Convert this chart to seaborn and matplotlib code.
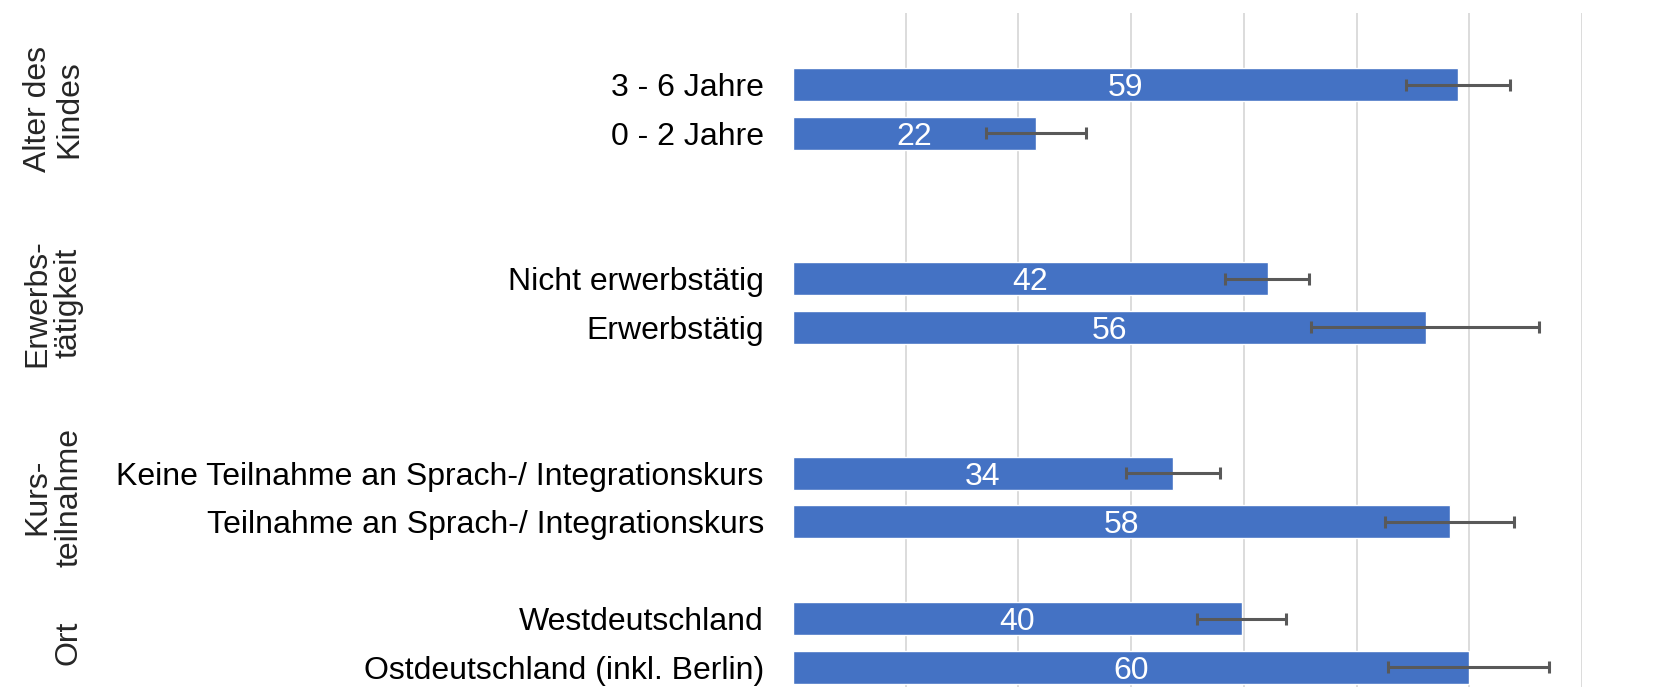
import matplotlib
matplotlib.use("Agg")
import matplotlib.pyplot as plt
import matplotlib.transforms as mtransforms
import pandas as pd
import seaborn as sns

# data
groups = ["Alter des\nKindes", "Erwerbs-\ntätigkeit", "Kurs-\nteilnahme", "Ort"]
labels = [
    ["3 - 6 Jahre", "0 - 2 Jahre"],
    ["Nicht erwerbstätig", "Erwerbstätig"],
    ["Keine Teilnahme an Sprach-/ Integrationskurs", "Teilnahme an Sprach-/ Integrationskurs"],
    ["Westdeutschland", "Ostdeutschland (inkl. Berlin)"],
]
values = [59.0, 21.6, 42.1, 56.2, 33.7, 58.3, 39.8, 60.0]
ci_low = [54.4, 17.1, 38.3, 46.0, 29.5, 52.5, 35.8, 52.8]
ci_high = [63.6, 26.0, 45.8, 66.2, 37.9, 64.0, 43.7, 67.1]
gaps_after = [2, 2, 1]  # empty category slots between groups

flat_labels = [l for g in labels for l in g]
df = pd.DataFrame({"label": flat_labels, "value": values, "lo": ci_low, "hi": ci_high})

# category order with blank spacer slots
order = []
for i, g in enumerate(labels):
    order += g
    if i < len(gaps_after):
        order += [f"_gap{i}_{k}" for k in range(gaps_after[i])]

sns.set_theme(style="white")
plt.rcParams["font.family"] = ["Liberation Sans", "DejaVu Sans"]

BLUE = "#4472C4"
GREY = "#595959"

fig = plt.figure(figsize=(16.75, 6.87), dpi=100)
ax = fig.add_axes([793 / 1675, 0.0, (1582 - 793) / 1675, 1 - 13 / 687])

sns.barplot(data=df, x="value", y="label", order=order, orient="h",
            color=BLUE, saturation=1, width=0.68, errorbar=None, ax=ax)

pos = [order.index(l) for l in df["label"]]
ax.errorbar(df["value"], pos,
            xerr=[df["value"] - df["lo"], df["hi"] - df["value"]],
            fmt="none", ecolor=GREY, elinewidth=2.2, capsize=4.5, capthick=2.2, zorder=4)

for p, v in zip(pos, df["value"]):
    ax.text(v / 2, p, f"{v:.0f}", color="white", fontsize=23,
            ha="center", va="center_baseline", zorder=5)

ax.set_xlim(0, 70)
ax.set_xticks(range(10, 71, 10))
ax.set_ylim(12.41, -1.48)
ax.set_yticks(range(len(order)))
ax.set_yticklabels(["" if o.startswith("_gap") else o for o in order], fontsize=23, color="#000000")
ax.tick_params(axis="y", length=0, pad=21)
ax.tick_params(axis="x", length=0, labelbottom=False)
ax.set_xlabel("")
ax.set_ylabel("")
ax.grid(axis="x", color="#D9D9D9", linewidth=1.3)
ax.set_axisbelow(True)
for s in ax.spines.values():
    s.set_visible(False)

# group labels on the left
trans = mtransforms.blended_transform_factory(fig.transFigure, ax.transData)
for g, members in zip(groups, labels):
    centre = sum(order.index(m) for m in members) / len(members)
    ax.text(84 / 1675, centre, g, transform=trans, rotation=90, fontsize=23,
            ha="right", va="center", multialignment="center", linespacing=1.05)

fig.savefig("out.png", dpi=100)
